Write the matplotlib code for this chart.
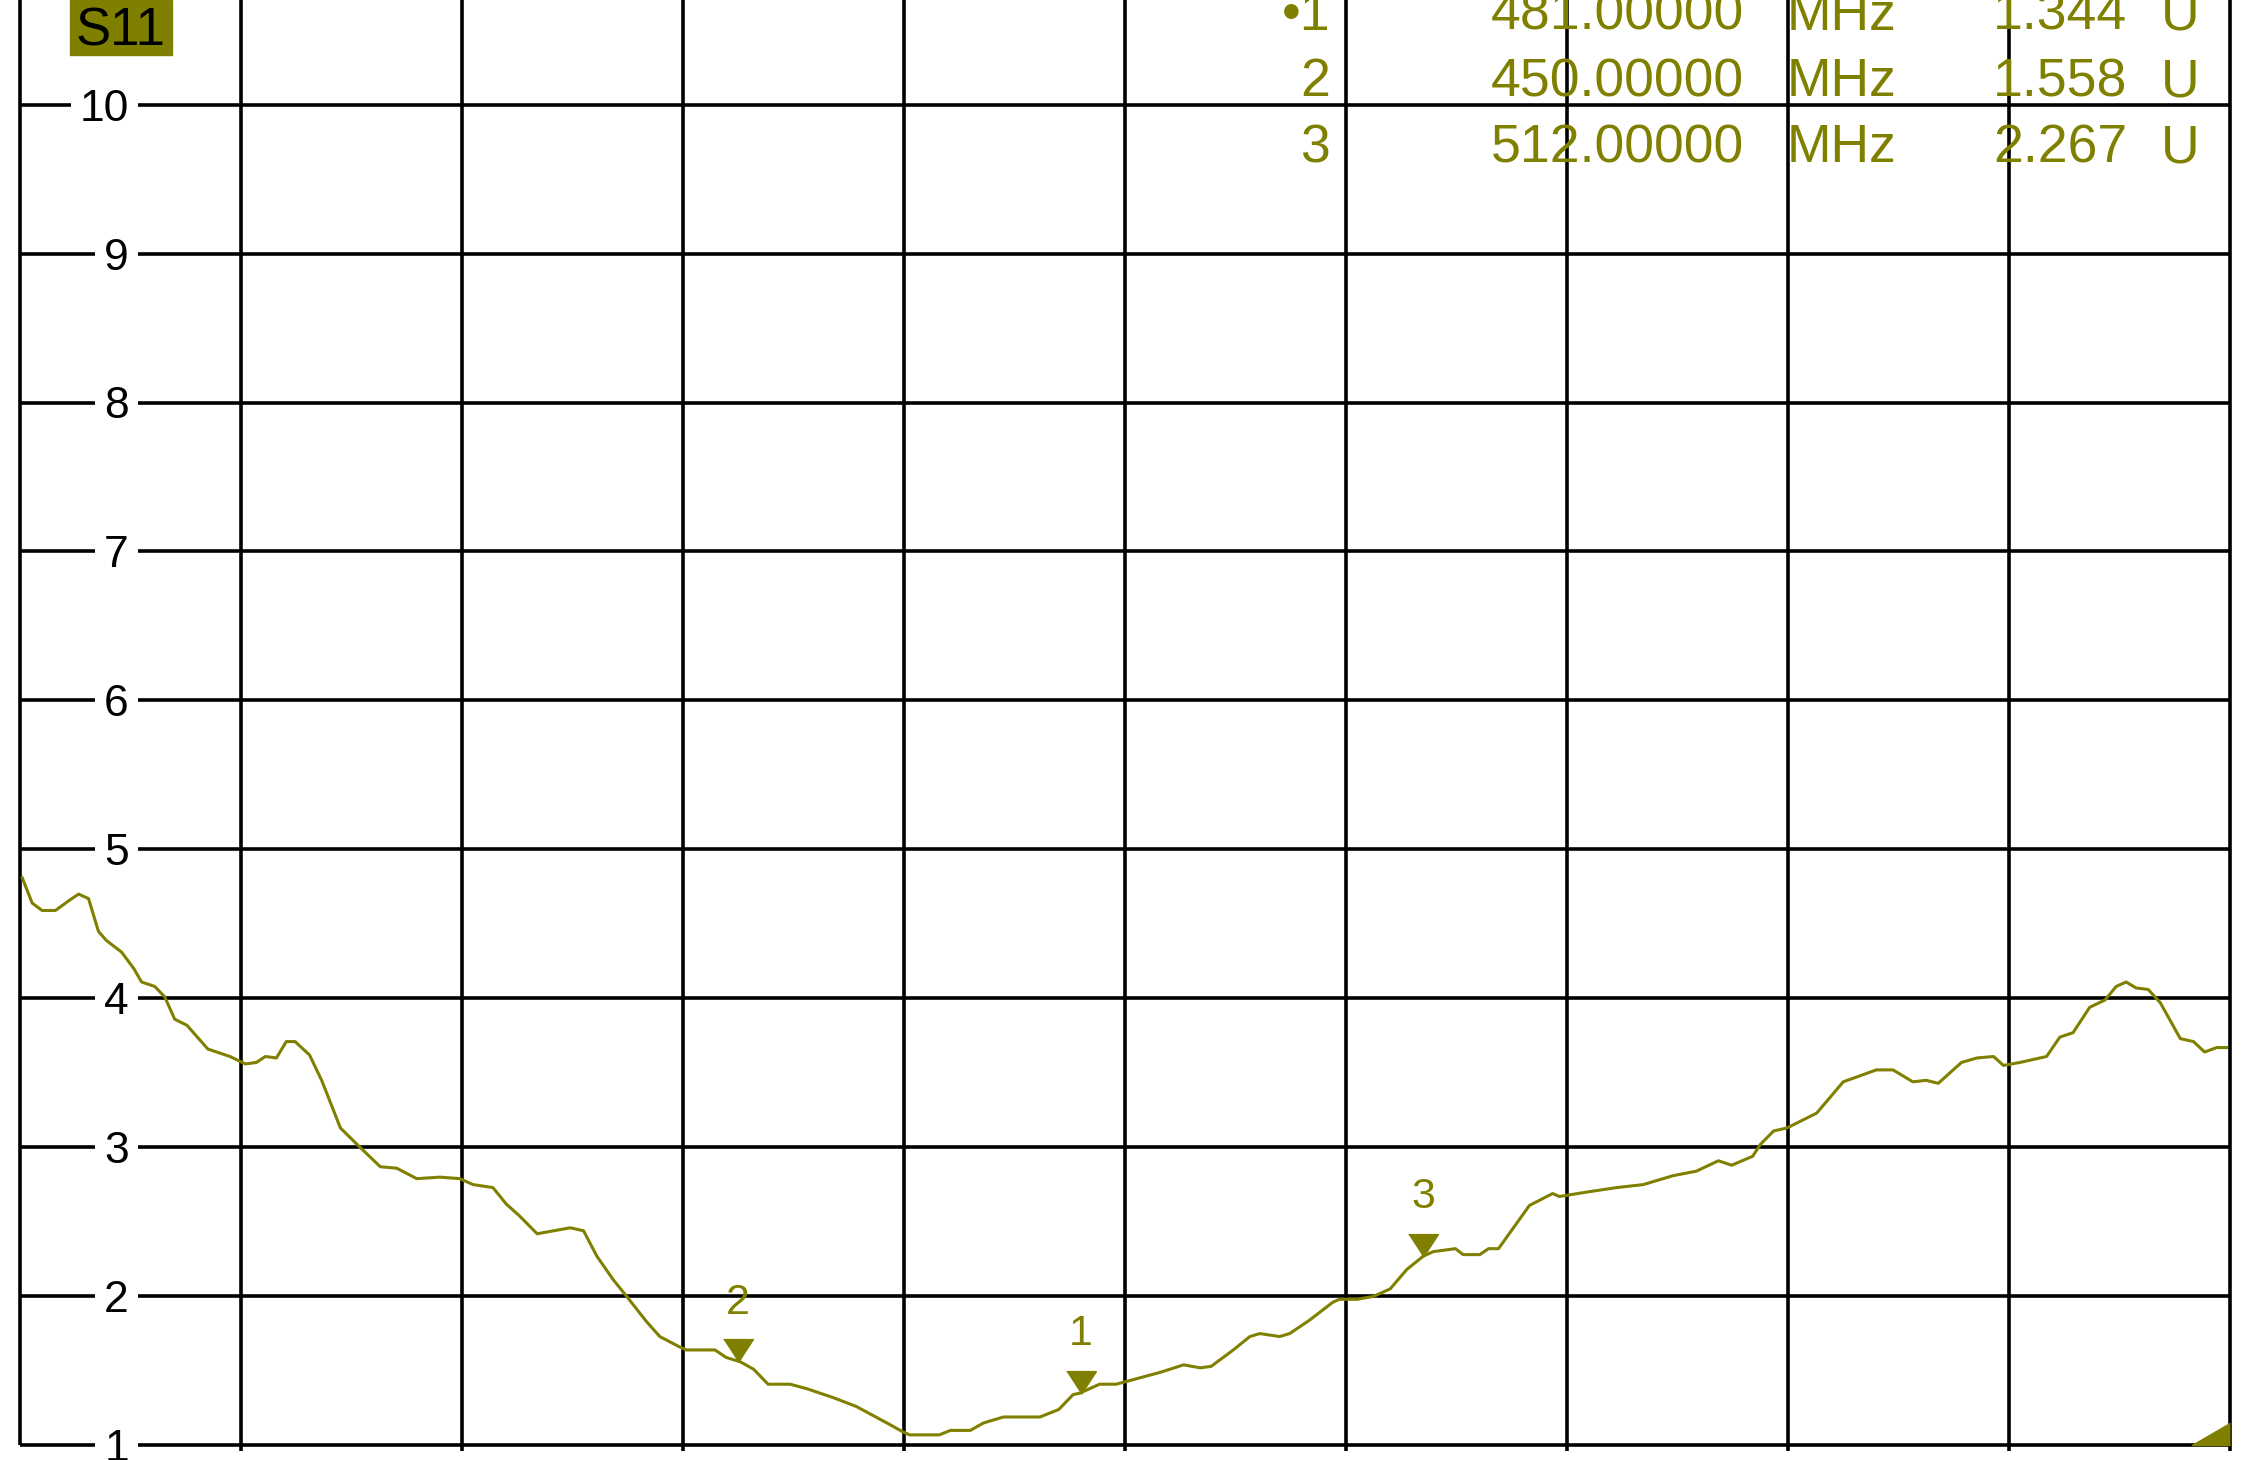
import numpy as np
import matplotlib.pyplot as plt
from matplotlib.patches import Rectangle

plt.rcParams['font.family'] = ['Liberation Sans', 'DejaVu Sans']

# S11 trace (VSWR, U), 385..585 MHz
freq_mhz = [385.2, 386.1, 387.0, 388.2, 389.5, 390.3, 391.2, 392.1, 392.8, 394.2,
            395.3, 396.0, 397.2, 398.1, 399.0, 400.1, 402.0, 404.0, 405.4, 406.4,
            407.2, 408.2, 409.1, 409.9, 411.2, 412.3, 413.1, 414.0, 415.5, 417.6,
            419.1, 420.9, 423.0, 424.8,
            426.0, 427.8, 429.0, 430.2, 431.8, 433.3, 434.8, 436.0, 437.2, 438.7,
            439.9, 441.7, 442.9, 444.7, 445.3, 447.9, 448.9, 450.2, 451.4, 452.7,
            454.7, 456.2, 458.6, 460.7, 462.2, 463.7, 464.9, 465.5, 466.4,
            468.2, 469.2, 471.0, 472.2, 474.0, 477.3, 479.0, 480.3, 480.9, 482.7,
            484.2, 485.7, 488.2, 490.3, 491.8, 492.8, 494.8, 496.3, 497.2, 499.0,
            499.9, 501.7, 503.8, 504.4, 506.0, 507.5, 509.0, 510.5, 512.0, 512.9,
            514.9, 515.6, 517.1, 517.9, 518.8, 521.6, 523.7, 524.3, 526.8, 529.5,
            531.9, 534.6, 536.7, 538.7, 539.9, 541.8, 542.5, 543.7, 544.9, 547.6,
            550.0, 553.0, 554.5, 556.3, 557.5, 558.6, 560.7, 562.1, 563.6, 564.5,
            566.0, 568.4, 569.6, 570.8, 572.3, 573.7, 574.7, 575.6, 576.5, 577.6,
            578.7, 580.5, 581.7, 582.7, 583.8, 584.7]
vswr = [4.81, 4.64, 4.59, 4.59, 4.66, 4.70, 4.67, 4.45, 4.39, 4.31,
        4.20, 4.11, 4.08, 4.01, 3.86, 3.82, 3.66, 3.61, 3.56, 3.57,
        3.61, 3.60, 3.71, 3.71, 3.62, 3.45, 3.30, 3.13, 3.02, 2.87,
        2.86, 2.79, 2.80, 2.79,
        2.75, 2.73, 2.62, 2.54, 2.42, 2.44, 2.46, 2.44, 2.27, 2.11,
        2.00, 1.83, 1.73, 1.66, 1.64, 1.64, 1.59, 1.56, 1.51, 1.41,
        1.41, 1.38, 1.32, 1.26, 1.20, 1.14, 1.09, 1.07, 1.07,
        1.07, 1.10, 1.10, 1.15, 1.19, 1.19, 1.24, 1.34, 1.35, 1.41,
        1.41, 1.44, 1.49, 1.54, 1.52, 1.53, 1.64, 1.73, 1.75, 1.73,
        1.75, 1.84, 1.96, 1.98, 1.98, 2.00, 2.05, 2.18, 2.27, 2.30,
        2.32, 2.28, 2.28, 2.32, 2.32, 2.61, 2.69, 2.67, 2.70, 2.73,
        2.75, 2.81, 2.84, 2.91, 2.88, 2.94, 3.02, 3.11, 3.13, 3.23,
        3.44, 3.52, 3.52, 3.44, 3.45, 3.43, 3.57, 3.60, 3.61, 3.55,
        3.57, 3.61, 3.74, 3.77, 3.94, 3.99, 4.08, 4.11, 4.07, 4.06,
        3.97, 3.73, 3.71, 3.64, 3.67, 3.67]

# markers
marker_ids = [1, 2, 3]
marker_freq = [481.0, 450.0, 512.0]
marker_vswr = [1.344, 1.558, 2.267]

y_ticks = [1, 2, 3, 4, 5, 6, 7, 8, 9, 10]
x_grid = [385, 405, 425, 445, 465, 485, 505, 525, 545, 565, 585]

OLIVE = '#808000'
W, H = 2246, 1460
y_top = 10.702
y_bot = 0.9013

fig = plt.figure(figsize=(W / 100, H / 100), dpi=100)
ax = fig.add_axes([20 / W, 0, 2210 / W, 1])
ax.set_xlim(x_grid[0], x_grid[-1])
ax.set_ylim(y_bot, y_top)
ax.axis('off')

# grid
ax.hlines(y_ticks, x_grid[0], x_grid[-1], color='black', lw=2.6, zorder=1)
ax.vlines(x_grid[1:], 0.965, y_top, color='black', lw=2.6, zorder=1, clip_on=False)
ax.vlines(x_grid[0], y_ticks[0], y_top, color='black', lw=2.6, zorder=1, clip_on=False)

# y labels sitting on the grid lines
for v in y_ticks:
    ax.annotate(str(v), xy=(0.0493, v), xycoords=('axes fraction', 'data'),
                xytext=(0, -11.5), textcoords='offset points',
                ha='right', va='baseline', fontsize=32, color='black', zorder=2,
                bbox=dict(boxstyle='square,pad=0.2', fc='white', ec='none'))

# trace
ax.plot(freq_mhz, vswr, color=OLIVE, lw=2.2, zorder=3, solid_joinstyle='round')

# marker triangles, tip on the trace
tri = [(-0.65, 1), (0.65, 1), (0, 0)]
ax.plot(marker_freq, marker_vswr, ls='none', marker=tri, ms=33,
        color=OLIVE, zorder=4)
for mid, f, v in zip(marker_ids, marker_freq, marker_vswr):
    ax.annotate(str(mid), xy=(f, v), xytext=(0, 35), textcoords='offset points',
                ha='center', va='baseline', fontsize=31, color=OLIVE, zorder=4)

# reference mark in bottom-right corner
ax.plot([x_grid[-1]], [y_ticks[0]], marker=[(0, 0), (-1, 0), (0, 0.58)], ms=55,
        color=OLIVE, clip_on=False, zorder=4)

# S11 tag
fig.add_artist(Rectangle((70 / W, 1 - 55 / H), 102 / W, 55 / H,
                         transform=fig.transFigure, color=OLIVE, zorder=5))
fig.text(121 / W, 1 - 45 / H, 'S11', ha='center', va='baseline',
         fontsize=38, color='black', zorder=6)

# marker readout table
row_base = [30, 96.5, 162.5]
for i, (mid, f, v) in enumerate(zip(marker_ids, marker_freq, marker_vswr)):
    yb = 1 - row_base[i] / H
    tag = ('\u2022' if i == 0 else '') + str(mid)
    fig.text(1330 / W, yb, tag, ha='right', va='baseline', fontsize=38.5, color=OLIVE)
    fig.text(1744 / W, yb, f'{f:.5f}', ha='right', va='baseline', fontsize=38.5, color=OLIVE)
    fig.text(1787 / W, yb, 'MHz', ha='left', va='baseline', fontsize=38.5, color=OLIVE)
    fig.text(2127 / W, yb, f'{v:.3f}', ha='right', va='baseline', fontsize=38.5, color=OLIVE)
    fig.text(2161 / W, yb, 'U', ha='left', va='baseline', fontsize=38.5, color=OLIVE)

fig.savefig('out.png', dpi=100, facecolor='white')
